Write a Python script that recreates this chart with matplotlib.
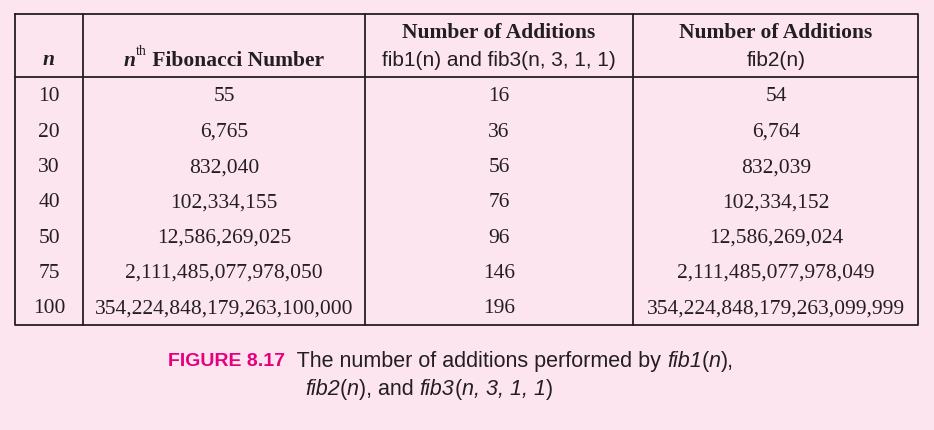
import matplotlib
matplotlib.use("Agg")
import matplotlib.pyplot as plt

n_values = ["10", "20", "30", "40", "50", "75", "100"]
fib_numbers = ["55", "6,765", "832,040", "102,334,155", "12,586,269,025",
               "2,111,485,077,978,050", "354,224,848,179,263,100,000"]
adds_fib1_fib3 = ["16", "36", "56", "76", "96", "146", "196"]
adds_fib2 = ["54", "6,764", "832,039", "102,334,152", "12,586,269,024",
             "2,111,485,077,978,049", "354,224,848,179,263,099,999"]

BG = "#fde5ef"
PINK = "#e6007e"
INK = "#231f20"
SERIF = "Liberation Serif"
SANS = "Liberation Sans"

W, H = 934, 431
fig = plt.figure(figsize=(W / 100, H / 100), dpi=100, facecolor=BG)
ax = fig.add_axes([0, 0, 1, 1])
ax.set_xlim(0, W)
ax.set_ylim(H, 0)
ax.axis("off")
ax.set_facecolor(BG)

fig.canvas.draw()
renderer = fig.canvas.get_renderer()


def draw_run(x, y, pieces):
    for txt, kw in pieces:
        t = ax.text(x, y, txt, ha="left", **dict(dict(va="center"), **kw))
        bb = t.get_window_extent(renderer=renderer)
        x += bb.width * W / fig.bbox.width
    return x


def run_width(pieces):
    w = 0
    for txt, kw in pieces:
        t = ax.text(0, 0, txt, **kw)
        w += t.get_window_extent(renderer=renderer).width * W / fig.bbox.width
        t.remove()
    return w


# table frame
left, right, top, head_bot, bottom = 15, 918, 15, 78, 326
col_lines = [83, 365, 633]
lw = 1.3
ax.plot([left, right, right, left, left], [top, top, bottom, bottom, top], color=INK, lw=lw)
ax.plot([left, right], [head_bot, head_bot], color=INK, lw=lw)
for x in col_lines:
    ax.plot([x, x], [top, bottom], color=INK, lw=lw)

centers = [49, 224, 499, 776]
fs = 15.5
hsans = 15

# header
ax.text(centers[0], 60, "n", ha="center", va="center", fontsize=fs, family=SERIF,
        style="italic", weight="bold", color=INK)
nth = [("n", dict(fontsize=fs, family=SERIF, style="italic", weight="bold", color=INK, va="baseline")),
       ("th", dict(fontsize=10, family=SERIF, color=INK, va="bottom")),
       (" Fibonacci Number", dict(fontsize=fs, family=SERIF, weight="bold", color=INK, va="baseline"))]
x0 = centers[1] - run_width(nth) / 2
x0 = draw_run(x0, 66, nth[:1])
x0 = draw_run(x0, 58, nth[1:2])
draw_run(x0, 66, nth[2:])

ax.text(centers[2], 33, "Number of Additions", ha="center", va="center", fontsize=fs,
        family=SERIF, weight="bold", color=INK)
ax.text(centers[2], 60, "fib1(n) and fib3(n, 3, 1, 1)", ha="center", va="center",
        fontsize=hsans, family=SANS, color=INK)
ax.text(centers[3], 33, "Number of Additions", ha="center", va="center", fontsize=fs,
        family=SERIF, weight="bold", color=INK)
ax.text(centers[3], 60, "fib2(n)", ha="center", va="center", fontsize=hsans, family=SANS, color=INK)

# body rows
row_y0, row_h = 97, 35.3
for i, row in enumerate(zip(n_values, fib_numbers, adds_fib1_fib3, adds_fib2)):
    y = row_y0 + i * row_h
    for cx, val in zip(centers, row):
        ax.text(cx, y, val, ha="center", va="center", fontsize=fs, family=SERIF, color=INK)

# caption
cap = dict(fontsize=15.5, family=SANS, color=INK)
capi = dict(cap, style="italic")
draw_run(168, 362, [("FIGURE 8.17", dict(fontsize=14, family=SANS, weight="bold", color=PINK)),
                    ("  The number of additions performed by ", cap),
                    ("fib1", capi), ("(", cap), ("n", capi), ("),", cap)])
draw_run(305, 390, [("fib2", capi), ("(", cap), ("n", capi), ("), and ", cap),
                    ("fib3", capi), ("(", cap), ("n, 3, 1, 1", capi), (")", cap)])

fig.savefig("out.png", dpi=100, facecolor=BG)
